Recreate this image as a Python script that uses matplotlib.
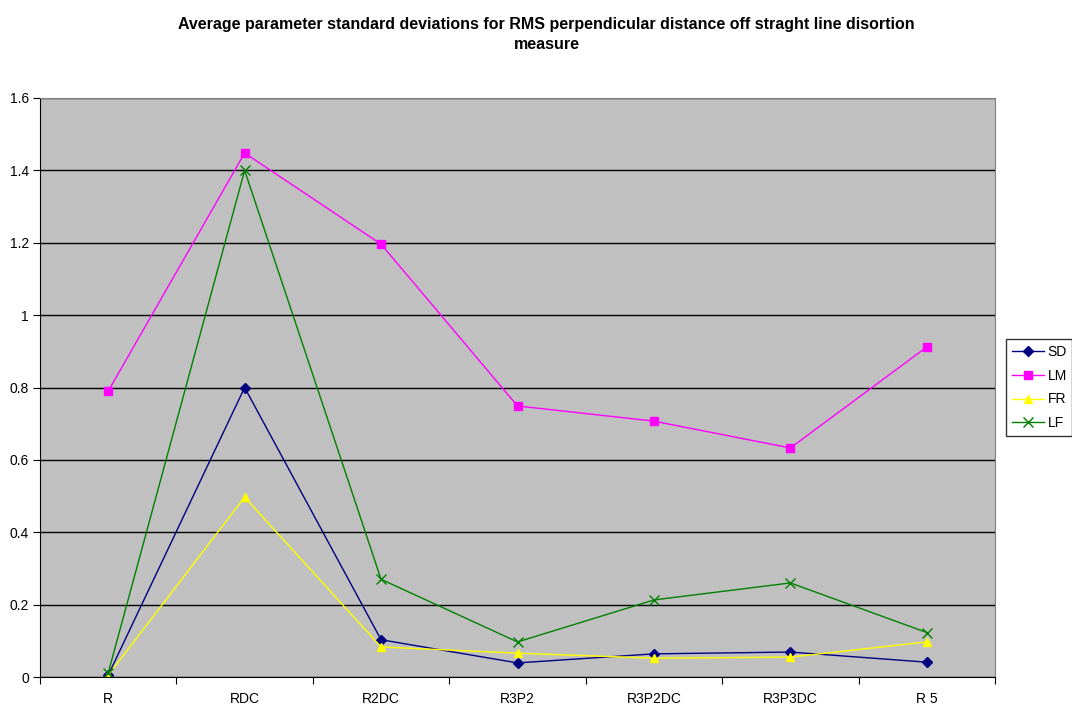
import numpy as np
import matplotlib
matplotlib.use("Agg")
import matplotlib.pyplot as plt
from matplotlib.ticker import FixedLocator, NullFormatter, FixedFormatter

plt.rcParams['font.family'] = ['Liberation Sans', 'DejaVu Sans']

# Data
categories = ["R", "RDC", "R2DC", "R3P2", "R3P2DC", "R3P3DC", "R 5"]
sd = [0.005, 0.80, 0.103, 0.039, 0.064, 0.069, 0.041]
lm = [0.79, 1.448, 1.196, 0.749, 0.707, 0.633, 0.912]
fr = [0.005, 0.497, 0.083, 0.066, 0.052, 0.055, 0.097]
lf = [0.011, 1.40, 0.27, 0.097, 0.213, 0.26, 0.123]

fig = plt.figure(figsize=(10.72, 7.09), dpi=100)
ax = fig.add_axes([0.0373, 0.0451, 0.8909, 0.8167])
ax.set_facecolor("#C0C0C0")

x = np.arange(len(categories))
ax.plot(x, sd, color="#000080", marker="D", markersize=5, lw=1, label="SD")
ax.plot(x, lm, color="#FF00FF", marker="s", markersize=5.5, lw=1, label="LM")
ax.plot(x, fr, color="#FFFF00", marker="^", markersize=6, lw=1, label="FR")
ax.plot(x, lf, color="#008000", marker="x", markersize=7, mew=1, lw=1, label="LF")

ax.set_xlim(-0.5, len(categories) - 0.5)
ax.set_ylim(0, 1.6)
ax.set_yticks(np.arange(0, 1.61, 0.2))
ax.set_yticklabels(["0", "0.2", "0.4", "0.6", "0.8", "1", "1.2", "1.4", "1.6"])
ax.yaxis.grid(True, color="black", lw=1)
ax.set_axisbelow(True)

# category ticks sit between categories, labels centred on them
ax.xaxis.set_major_locator(FixedLocator(np.arange(-0.5, len(categories), 1.0)))
ax.xaxis.set_major_formatter(NullFormatter())
ax.xaxis.set_minor_locator(FixedLocator(x))
ax.xaxis.set_minor_formatter(FixedFormatter(categories))
ax.tick_params(axis="x", which="minor", length=0, pad=11, labelsize=10)
ax.tick_params(axis="x", which="major", length=5, color="black")
ax.tick_params(axis="y", length=5, labelsize=10, pad=3)

for side in ["top", "right"]:
    ax.spines[side].set_color("#808080")
for side in ["left", "bottom"]:
    ax.spines[side].set_color("black")

fig.suptitle("Average parameter standard deviations for RMS perpendicular distance off straght line disortion\nmeasure",
             x=0.51, y=0.976, fontsize=11.5, fontweight="bold", linespacing=1.45)

leg = ax.legend(loc="center left", bbox_to_anchor=(1.0115, 0.50), fontsize=10,
                frameon=True, fancybox=False, edgecolor="black", borderpad=0.4,
                handlelength=2.3, labelspacing=0.7, handletextpad=0.3, borderaxespad=0)
leg.get_frame().set_linewidth(1)

fig.savefig("out.png", dpi=100, facecolor="white")
